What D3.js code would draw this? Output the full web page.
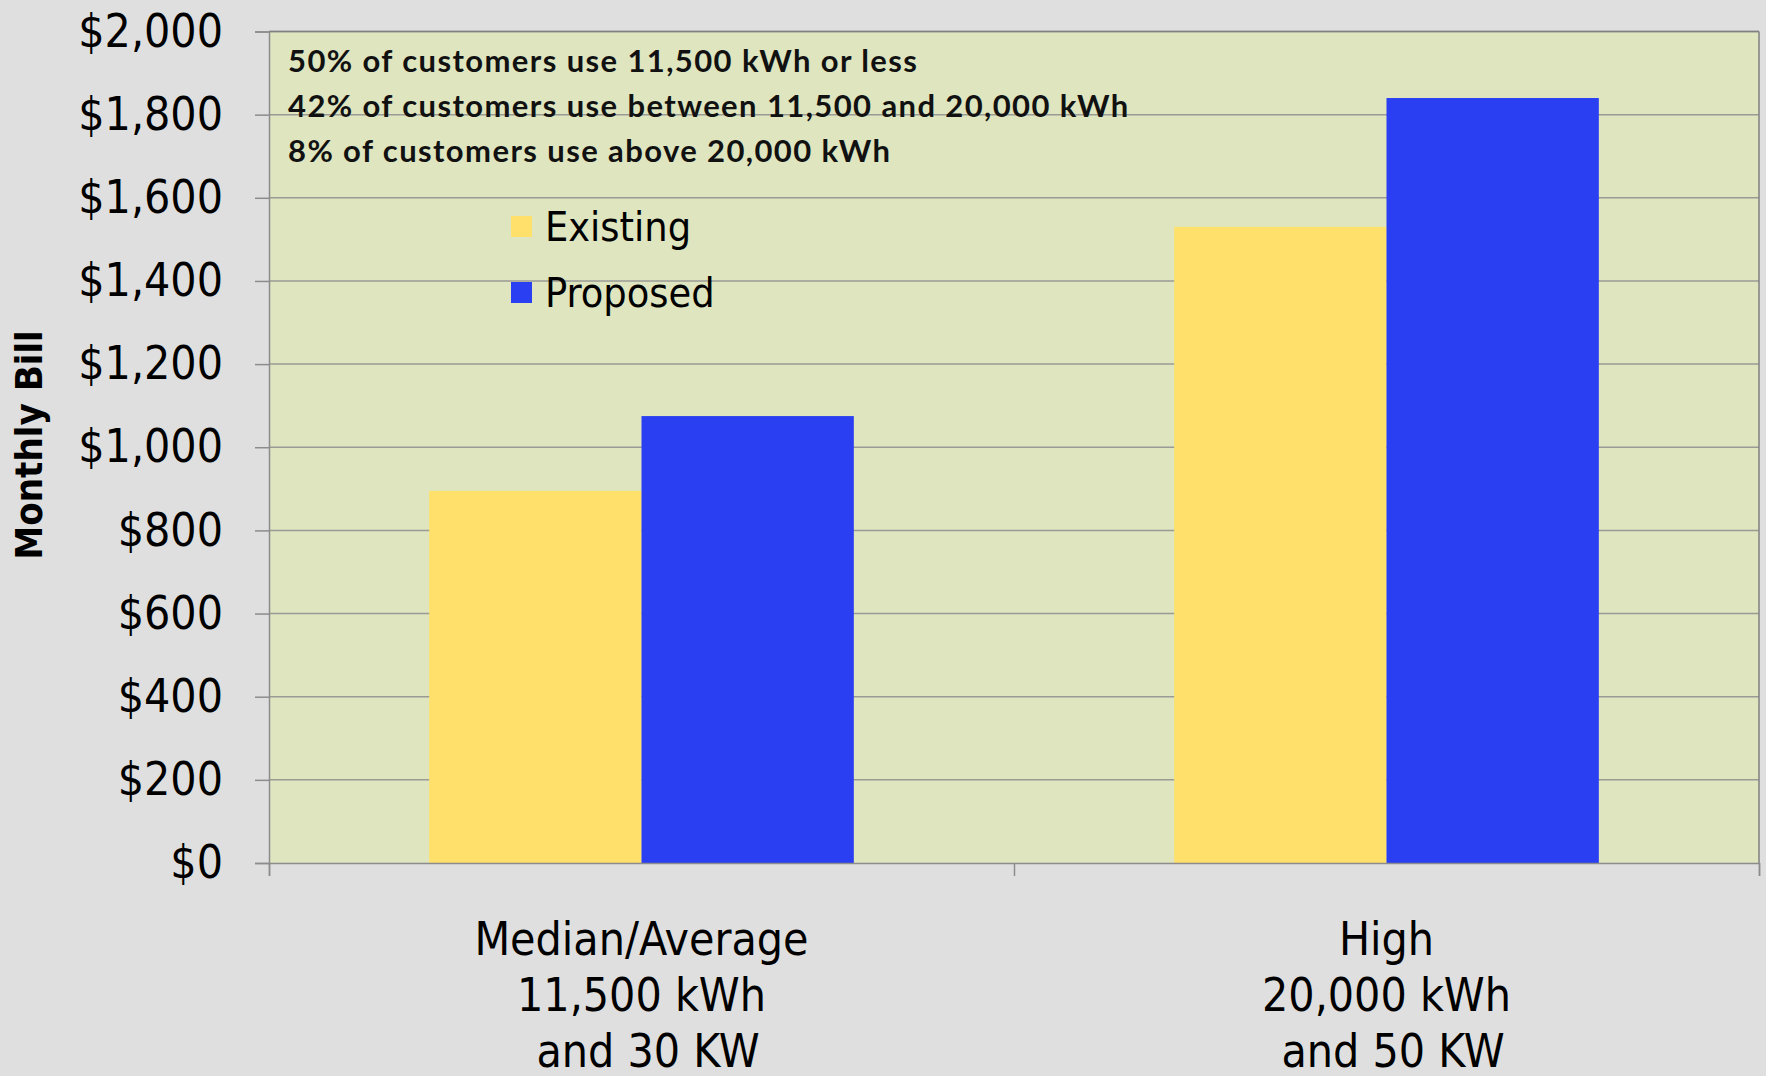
<!DOCTYPE html>
<html>
<head>
<meta charset="utf-8">
<script src="https://cdn.jsdelivr.net/npm/d3@7"></script>
<style>
  html, body { margin: 0; padding: 0; background: #dfdfdf; }
  svg { display: block; }
</style>
</head>
<body>
<svg id="chart" width="1766" height="1076"></svg>
<script>
const categories = [
  ["Median/Average", "11,500 kWh", " and 30 KW"],
  ["High", "20,000 kWh", " and 50 KW"]
];
const categoryKeys = ["median", "high"];
const seriesNames = ["Existing", "Proposed"];
const existingValues = [895, 1530];
const proposedValues = [1075, 1840];
const yTicks = [0, 200, 400, 600, 800, 1000, 1200, 1400, 1600, 1800, 2000];
const notes = [
  "50% of customers use 11,500 kWh or less",
  "42% of customers use between 11,500 and 20,000 kWh",
  "8% of customers use above 20,000 kWh"
];
const colors = ["#ffe06b", "#2a3ff2"];

const svg = d3.select("#chart");
const W = 1766, H = 1076;
const m = { left: 269, right: W - 1759, top: 31.5, bottom: H - 863 };
const pw = W - m.left - m.right, ph = H - m.top - m.bottom;
const FONT = "'DejaVu Sans Condensed', 'DejaVu Sans', sans-serif";

svg.append("rect").attr("width", W).attr("height", H).attr("fill", "#dfdfdf");

const g = svg.append("g").attr("transform", `translate(${m.left},${m.top})`);

const x0 = d3.scaleBand().domain(categoryKeys).range([0, pw]).paddingInner(0.43).paddingOuter(0.215);
const x1 = d3.scaleBand().domain(seriesNames).range([0, x0.bandwidth()]);
const y = d3.scaleLinear().domain([0, 2000]).range([ph, 0]);

// plot background
g.append("rect").attr("width", pw).attr("height", ph).attr("fill", "#dee5bf");

// gridlines
g.append("g").selectAll("line").data(yTicks.filter(d => d > 0)).join("line")
  .attr("x1", 0).attr("x2", pw)
  .attr("y1", d => y(d)).attr("y2", d => y(d))
  .attr("stroke", "#9a9a96").attr("stroke-width", 1.5);

// borders
g.append("line").attr("x1", pw).attr("x2", pw).attr("y1", 0).attr("y2", ph)
  .attr("stroke", "#808080").attr("stroke-width", 1.5);
g.append("line").attr("x1", 0).attr("x2", pw).attr("y1", 0).attr("y2", 0)
  .attr("stroke", "#808080").attr("stroke-width", 1.5);

// bars
const data = categoryKeys.map((k, i) => ({ key: k, vals: [existingValues[i], proposedValues[i]] }));
g.append("g").selectAll("g").data(data).join("g")
  .attr("transform", d => `translate(${x0(d.key)},0)`)
  .selectAll("rect").data(d => d.vals.map((v, j) => ({ s: seriesNames[j], v, c: colors[j] })))
  .join("rect")
  .attr("x", d => x1(d.s)).attr("width", x1.bandwidth())
  .attr("y", d => y(d.v)).attr("height", d => ph - y(d.v))
  .attr("fill", d => d.c);

// y axis
const yAxis = g.append("g")
  .call(d3.axisLeft(y).tickValues(yTicks).tickFormat(d => "$" + d3.format(",")(d)).tickSize(14).tickPadding(32));
yAxis.select(".domain").attr("stroke", "#8c8c8c").attr("stroke-width", 1.5);
yAxis.selectAll(".tick line").attr("stroke", "#8c8c8c").attr("stroke-width", 1.5);
yAxis.selectAll(".tick text").attr("font-size", 46).attr("fill", "#000")
  .attr("font-family", FONT);

// x axis (ticks at band boundaries)
const xBound = d3.scaleLinear().domain([0, categoryKeys.length]).range([0, pw]);
const xAxis = g.append("g").attr("transform", `translate(0,${ph})`)
  .call(d3.axisBottom(xBound).tickValues(d3.range(categoryKeys.length + 1)).tickSize(13).tickFormat(""));
xAxis.select(".domain").attr("stroke", "#8c8c8c").attr("stroke-width", 1.5);
xAxis.selectAll(".tick line").attr("stroke", "#8c8c8c").attr("stroke-width", 1.5);

// category labels
const catG = g.append("g").selectAll("text").data(categoryKeys).join("text")
  .attr("x", d => x0(d) + x0.bandwidth() / 2)
  .attr("y", ph + 92)
  .attr("text-anchor", "middle")
  .attr("font-family", FONT)
  .attr("font-size", 46)
  .attr("fill", "#000")
  .style("white-space", "pre");
catG.each(function(d, i) {
  const t = d3.select(this);
  categories[i].forEach((line, li) => {
    t.append("tspan").attr("x", x0(d) + x0.bandwidth() / 2).attr("dy", li === 0 ? 0 : 56).text(line);
  });
});

// y axis title
svg.append("text")
  .attr("transform", `translate(42,445) rotate(-90)`)
  .attr("text-anchor", "middle")
  .attr("font-family", FONT)
  .attr("font-weight", "bold")
  .attr("font-size", 38)
  .attr("fill", "#000")
  .text("Monthly Bill");

// annotation notes
svg.append("g").selectAll("text").data(notes).join("text")
  .attr("x", 288).attr("y", (d, i) => 72 + i * 45)
  .attr("font-family", "Lato, 'Open Sans', sans-serif")
  .attr("font-weight", "bold")
  .attr("font-size", 31)
  .attr("letter-spacing", 1.4)
  .attr("fill", "#111")
  .text(d => d);

// legend
const lg = svg.append("g").attr("transform", "translate(511,216)");
const li = lg.selectAll("g").data(seriesNames).join("g")
  .attr("transform", (d, i) => `translate(0,${i * 66})`);
li.append("rect").attr("width", 21).attr("height", 21).attr("fill", (d, i) => colors[i]);
li.append("text").attr("x", 34).attr("y", 25)
  .attr("font-family", FONT)
  .attr("font-size", 41).attr("fill", "#000")
  .text(d => d);
</script>
</body>
</html>
